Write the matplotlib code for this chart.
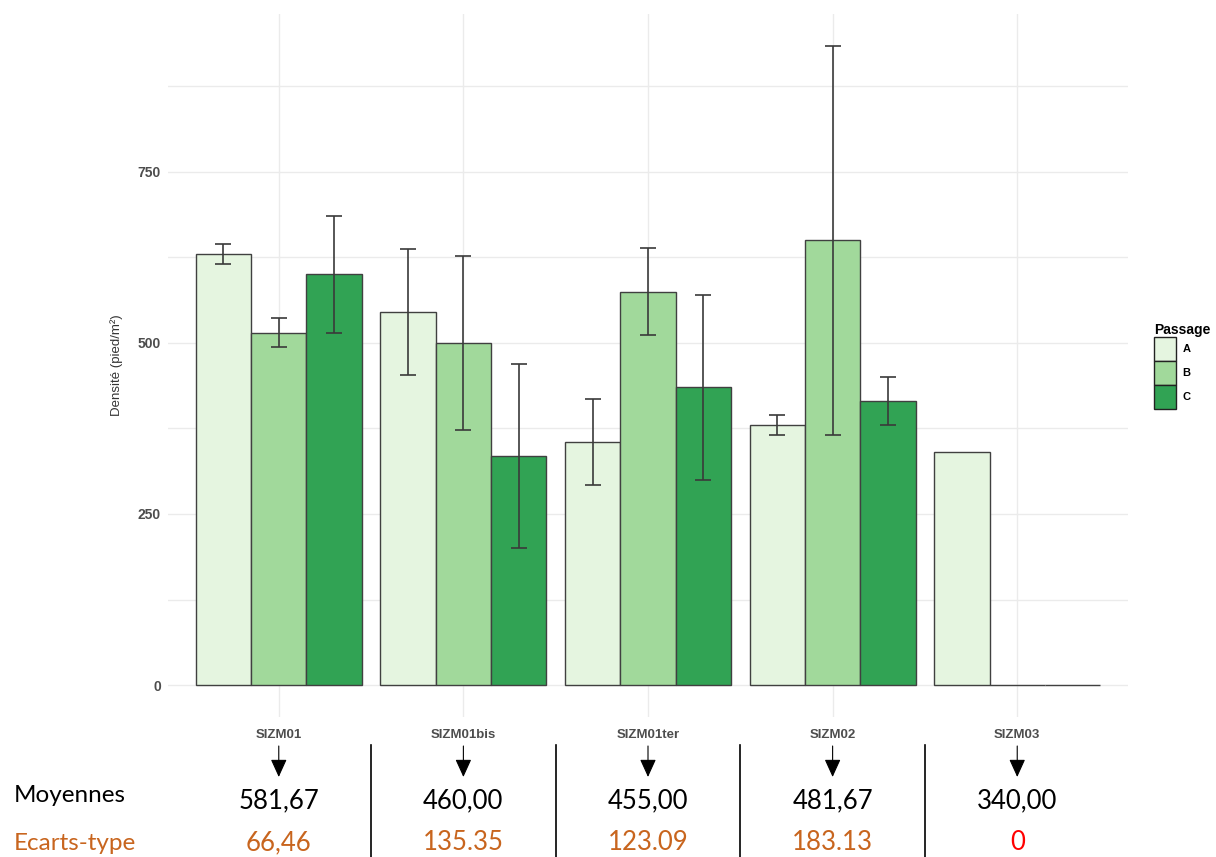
import numpy as np
import matplotlib
matplotlib.use('Agg')
import matplotlib.pyplot as plt
import matplotlib.transforms as mtransforms
from matplotlib.patches import Patch
from matplotlib.lines import Line2D

# densité moyenne par site et par passage
sites = ['SIZM01', 'SIZM01bis', 'SIZM01ter', 'SIZM02', 'SIZM03']
passages = ['A', 'B', 'C']
dens_A = [630, 545, 355, 380, 340]
dens_B = [515, 500, 575, 650, 0]
dens_C = [600, 335, 435, 415, 0]
err_A = [14, 92, 63, 14, np.nan]
err_B = [21, 127, 63, 284, np.nan]
err_C = [85, 134, 135, 35, np.nan]

# resume par site
moyennes = ['581,67', '460,00', '455,00', '481,67', '340,00']
ecarts = ['66,46', '135.35', '123.09', '183.13', '0']
ecarts_col = ['#C8651E', '#C8651E', '#C8651E', '#C8651E', '#FF0000']

colors = ['#E5F5E0', '#A1D99B', '#31A354']

plt.rcParams['font.family'] = ['Liberation Sans', 'DejaVu Sans']

fig = plt.figure(figsize=(12.16, 8.57), dpi=100)
ax = fig.add_axes([168 / 1216, 1 - 717 / 857, 960 / 1216, 703 / 857])

x = np.arange(len(sites))
w = 0.3
for k, (vals, errs) in enumerate(zip([dens_A, dens_B, dens_C], [err_A, err_B, err_C])):
    pos = x + (k - 1) * w
    ax.bar(pos, vals, width=w, color=colors[k], edgecolor='#404040',
           linewidth=1.0, zorder=2)
    ax.errorbar(pos, vals, yerr=errs, fmt='none', ecolor='#3a3a3a',
                elinewidth=1.2, capsize=6, capthick=1.2, zorder=3)

ax.set_xlim(-0.6, len(sites) - 0.4)
ax.set_ylim(-46.7, 980.7)
ax.set_yticks([0, 250, 500, 750])
ax.set_yticks([125, 375, 625, 875], minor=True)
ax.set_xticks(x)
ax.set_xticklabels(sites)
ax.grid(True, which='both', color='#EBEBEB', linewidth=1.0, zorder=0)
ax.grid(False, axis='x', which='minor')
ax.set_axisbelow(True)
for s in ax.spines.values():
    s.set_visible(False)
ax.tick_params(axis='both', which='both', length=0)
ax.tick_params(axis='y', pad=5, labelsize=10, labelcolor='#4D4D4D')
ax.tick_params(axis='x', pad=9, labelsize=9.5, labelcolor='#4D4D4D')
for lab in ax.get_xticklabels() + ax.get_yticklabels():
    lab.set_fontweight('bold')

ax.set_ylabel('Densité (pied/m²)', fontsize=9.5, color='#333333')
ax.yaxis.set_label_coords(-0.047, 0.5)

handles = [Patch(facecolor=c, edgecolor='#222222', linewidth=1.0) for c in colors]
leg = ax.legend(handles, passages, title='Passage', loc='upper left',
                bbox_to_anchor=(1146 / 1216, 1 - 315 / 857),
                bbox_transform=fig.transFigure, frameon=False,
                prop={'weight': 'bold', 'size': 8},
                title_fontproperties={'weight': 'bold', 'size': 10},
                handlelength=1.98, handleheight=2.95, labelspacing=0,
                handletextpad=0.6, borderpad=0.2, alignment='left')

# tableau sous le graphique : fleches, moyennes et ecarts-type
trans = mtransforms.blended_transform_factory(ax.transData, fig.transFigure)
for i in range(len(sites)):
    ax.annotate('', xy=(i, 1 - 777 / 857), xytext=(i, 1 - 746 / 857),
                xycoords=trans, textcoords=trans, annotation_clip=False,
                arrowprops=dict(arrowstyle='-|>,head_length=0.55,head_width=0.25',
                                color='black', lw=0.8, mutation_scale=20,
                                shrinkA=0, shrinkB=0))
    fig.text(i, 1 - 801 / 857, moyennes[i], transform=trans, ha='center',
             va='center', fontsize=18.5, family='Lato', color='black')
    fig.text(i, 1 - 843 / 857, ecarts[i], transform=trans, ha='center',
             va='center', fontsize=18.5, family='Lato', color=ecarts_col[i])
for i in range(len(sites) - 1):
    fig.add_artist(Line2D([i + 0.5, i + 0.5], [0, 1 - 745 / 857],
                          transform=trans, color='black', lw=1.2))

fig.text(14 / 1216, 1 - 796 / 857, 'Moyennes', ha='left', va='center',
         fontsize=17.5, family='Lato', color='black')
fig.text(14 / 1216, 1 - 844 / 857, 'Ecarts-type', ha='left', va='center',
         fontsize=17.5, family='Lato', color='#C8651E')

fig.savefig('out.png', dpi=100)
